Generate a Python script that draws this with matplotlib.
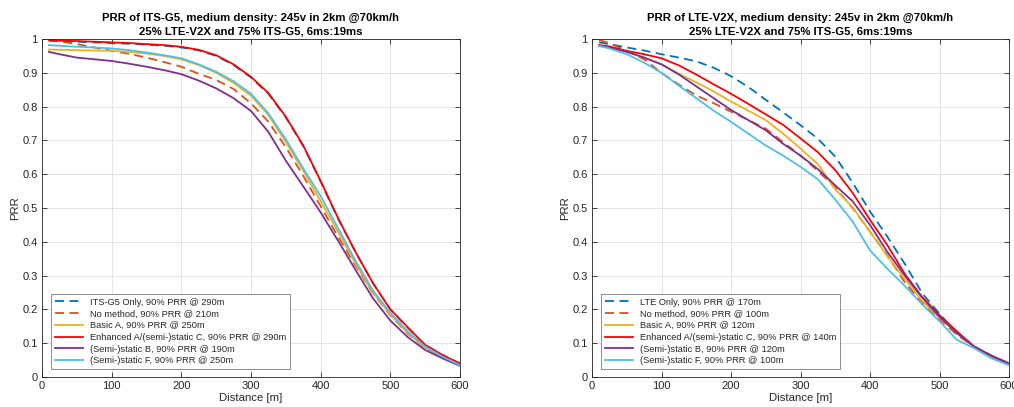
import matplotlib
matplotlib.use("Agg")
import matplotlib.pyplot as plt

plt.rcParams['font.family'] = ['Liberation Sans', 'DejaVu Sans']

dist = [10, 25, 50, 75, 100, 125, 150, 175, 200, 225, 250, 275, 300,
        325, 350, 375, 400, 425, 450, 475, 500, 525, 550, 575, 600]

# ---- Left: PRR of ITS-G5 ----
L_only = [0.995, 0.993, 0.992, 0.990, 0.988, 0.986, 0.983, 0.980, 0.975, 0.966, 0.950, 0.923, 0.886,
          0.838, 0.768, 0.683, 0.578, 0.468, 0.370, 0.278, 0.200, 0.146, 0.095, 0.065, 0.040]
L_nomethod = [0.997, 0.993, 0.985, 0.975, 0.965, 0.956, 0.945, 0.932, 0.918, 0.897, 0.879, 0.852, 0.810,
              0.755, 0.680, 0.595, 0.505, 0.415, 0.330, 0.248, 0.183, 0.128, 0.087, 0.058, 0.035]
L_basicA = [0.969, 0.968, 0.967, 0.966, 0.965, 0.962, 0.957, 0.950, 0.940, 0.923, 0.900, 0.870, 0.832,
            0.775, 0.695, 0.610, 0.520, 0.430, 0.335, 0.250, 0.185, 0.130, 0.088, 0.058, 0.035]
L_enhA = [0.997, 0.995, 0.994, 0.992, 0.990, 0.988, 0.985, 0.982, 0.977, 0.968, 0.952, 0.925, 0.888,
          0.840, 0.770, 0.685, 0.580, 0.470, 0.370, 0.278, 0.200, 0.147, 0.095, 0.065, 0.040]
L_semiB = [0.962, 0.955, 0.945, 0.940, 0.935, 0.927, 0.918, 0.908, 0.896, 0.877, 0.854, 0.825, 0.787,
           0.725, 0.640, 0.564, 0.487, 0.403, 0.317, 0.233, 0.167, 0.118, 0.080, 0.055, 0.033]
L_semiF = [0.982, 0.980, 0.977, 0.975, 0.972, 0.967, 0.960, 0.952, 0.943, 0.925, 0.903, 0.875, 0.838,
           0.780, 0.703, 0.617, 0.535, 0.440, 0.344, 0.256, 0.190, 0.135, 0.090, 0.060, 0.035]

# ---- Right: PRR of LTE-V2X ----
R_only = [0.990, 0.985, 0.975, 0.966, 0.955, 0.945, 0.934, 0.915, 0.890, 0.858, 0.820, 0.783, 0.745,
          0.705, 0.652, 0.575, 0.490, 0.415, 0.335, 0.248, 0.187, 0.128, 0.090, 0.063, 0.040]
R_nomethod = [0.997, 0.988, 0.965, 0.940, 0.900, 0.865, 0.833, 0.810, 0.785, 0.760, 0.735, 0.695, 0.655,
              0.610, 0.560, 0.500, 0.430, 0.360, 0.280, 0.220, 0.170, 0.125, 0.088, 0.062, 0.040]
R_basicA = [0.980, 0.975, 0.962, 0.945, 0.925, 0.897, 0.872, 0.845, 0.815, 0.788, 0.760, 0.720, 0.676,
            0.630, 0.555, 0.502, 0.430, 0.357, 0.290, 0.225, 0.175, 0.130, 0.088, 0.060, 0.037]
R_enhA = [0.982, 0.978, 0.965, 0.955, 0.943, 0.922, 0.895, 0.866, 0.838, 0.808, 0.777, 0.746, 0.706,
          0.665, 0.612, 0.545, 0.465, 0.390, 0.305, 0.237, 0.183, 0.135, 0.090, 0.062, 0.040]
R_semiB = [0.980, 0.975, 0.962, 0.945, 0.925, 0.895, 0.860, 0.825, 0.790, 0.760, 0.730, 0.690, 0.655,
           0.615, 0.567, 0.520, 0.450, 0.370, 0.300, 0.235, 0.178, 0.130, 0.090, 0.063, 0.040]
R_semiF = [0.980, 0.972, 0.955, 0.930, 0.900, 0.862, 0.825, 0.788, 0.755, 0.720, 0.685, 0.655, 0.622,
           0.585, 0.525, 0.460, 0.375, 0.320, 0.270, 0.215, 0.165, 0.110, 0.085, 0.055, 0.035]

left_labels = ["ITS-G5 Only, 90% PRR @ 290m",
               "No method, 90% PRR @ 210m",
               "Basic A, 90% PRR @ 250m",
               "Enhanced A/(semi-)static C, 90% PRR @ 290m",
               "(Semi-)static B, 90% PRR @ 190m",
               "(Semi-)static F, 90% PRR @ 250m"]
right_labels = ["LTE Only, 90% PRR @ 170m",
                "No method, 90% PRR @ 100m",
                "Basic A, 90% PRR @ 120m",
                "Enhanced A/(semi-)static C, 90% PRR @ 140m",
                "(Semi-)static B, 90% PRR @ 120m",
                "(Semi-)static F, 90% PRR @ 100m"]
left_title = "PRR of ITS-G5, medium density: 245v in 2km @70km/h\n25% LTE-V2X and 75% ITS-G5, 6ms:19ms"
right_title = "PRR of LTE-V2X, medium density: 245v in 2km @70km/h\n25% LTE-V2X and 75% ITS-G5, 6ms:19ms"

colors = ["#0072BD", "#D95319", "#EDB120", "#FF0000", "#7E2F8E", "#4DBEEE"]
styles = ["dashed", "dashed", "solid", "solid", "solid", "solid"]

fig = plt.figure(figsize=(10.14, 4.07), dpi=100)
axL = fig.add_axes([42/1014, 30/407, 418/1014, 338/407])
axR = fig.add_axes([592/1014, 30/407, 417/1014, 338/407])

dark = "#262626"

def draw(ax, series, labels, title):
    handles = []
    for i in range(6):
        line, = ax.plot(dist, series[i], color=colors[i], lw=1.3, label=labels[i])
        if styles[i] == "dashed":
            line.set_dashes((5, 3))
        handles.append(line)
    ax.set_xlim(0, 600)
    ax.set_ylim(0, 1)
    ax.set_xticks([0, 100, 200, 300, 400, 500, 600])
    ax.set_yticks([0, 0.1, 0.2, 0.3, 0.4, 0.5, 0.6, 0.7, 0.8, 0.9, 1])
    ax.set_yticklabels(["0", "0.1", "0.2", "0.3", "0.4", "0.5", "0.6", "0.7", "0.8", "0.9", "1"])
    ax.grid(True, color="#e3e3e3", lw=0.7)
    ax.set_axisbelow(True)
    ax.tick_params(direction="in", length=3.5, width=0.6, colors=dark, labelsize=8.0,
                   top=True, right=True, pad=3)
    for s in ax.spines.values():
        s.set_color(dark)
        s.set_linewidth(0.6)
    ax.set_xlabel("Distance [m]", fontsize=8.2, color=dark, labelpad=1)
    ax.set_ylabel("PRR", fontsize=8.2, color=dark, labelpad=2)
    ax.set_title(title, fontsize=8.2, fontweight="bold", color="black", pad=3, linespacing=1.45)
    leg = ax.legend(handles=handles, loc="lower left", bbox_to_anchor=(0.0215, 0.0228),
                    borderaxespad=0, fontsize=6.65, handlelength=3.0, handletextpad=0.8,
                    labelspacing=0.3, borderpad=0.42, fancybox=False, framealpha=1,
                    edgecolor="#8c8c8c")
    leg.get_frame().set_linewidth(0.7)
    for t in leg.get_texts():
        t.set_color(dark)

draw(axL, [L_only, L_nomethod, L_basicA, L_enhA, L_semiB, L_semiF], left_labels, left_title)
draw(axR, [R_only, R_nomethod, R_basicA, R_enhA, R_semiB, R_semiF], right_labels, right_title)

fig.savefig("out.png", dpi=100)
